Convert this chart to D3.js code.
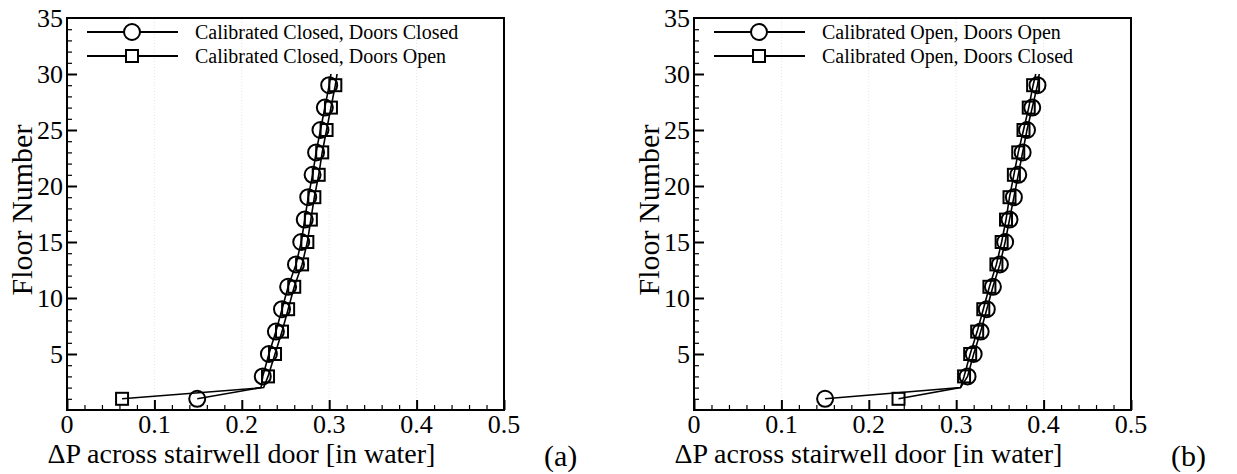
<!DOCTYPE html>
<html lang="en">
<head>
<meta charset="utf-8">
<title>Stairwell door pressure</title>
<script src="https://cdn.jsdelivr.net/npm/d3@7"></script>
<style>
  body { margin: 0; background: #fff; }
</style>
</head>
<body>
<div class="chart"></div>
<script>
// floors where a value was read (markers only on the odd floors)
var floors = [1, 2, 3, 5, 7, 9, 11, 13, 15, 17, 19, 21, 23, 25, 27, 29, 30];

// panel (a)
var closedDoorsClosed = [0.149, 0.222, 0.224, 0.231, 0.239, 0.246, 0.253, 0.262, 0.268, 0.272, 0.276, 0.281, 0.285, 0.290, 0.295, 0.300, 0.302];
var closedDoorsOpen   = [0.063, 0.225, 0.230, 0.238, 0.246, 0.253, 0.260, 0.269, 0.275, 0.279, 0.283, 0.288, 0.292, 0.297, 0.302, 0.307, 0.309];

// panel (b)
var openDoorsOpen   = [0.150, 0.305, 0.313, 0.320, 0.328, 0.335, 0.342, 0.350, 0.356, 0.361, 0.366, 0.371, 0.376, 0.381, 0.387, 0.393, 0.395];
var openDoorsClosed = [0.234, 0.305, 0.309, 0.316, 0.324, 0.331, 0.338, 0.346, 0.352, 0.357, 0.361, 0.366, 0.371, 0.377, 0.383, 0.388, 0.391];

var xTicks = [0, 0.1, 0.2, 0.3, 0.4, 0.5];
var xTickLabels = ["0", "0.1", "0.2", "0.3", "0.4", "0.5"];
var yTicks = [5, 10, 15, 20, 25, 30, 35];

var xTitle = "\u0394P across stairwell door [in water]";
var yTitle = "Floor Number";

var serif = "'Liberation Serif', 'Times New Roman', 'DejaVu Serif', serif";

var w = 1237, h = 474;
var plotW = 437, plotH = 392;
var plotTop = 18;

var svg = d3.select("div.chart")
  .append("svg")
  .attr("width", w)
  .attr("height", h);

function label(sel, size) {
  return sel.style("font-family", serif)
    .style("font-size", size + "px")
    .attr("fill", "#000");
}

function drawPanel(left, seriesA, seriesB, labelA, labelB, tag) {
  var x = d3.scaleLinear().domain([0, 0.5]).range([left, left + plotW]);
  var y = d3.scaleLinear().domain([0, 35]).range([plotTop + plotH, plotTop]);

  var g = svg.append("g");

  // faint dotted grid at major x ticks
  g.selectAll("line.grid")
    .data(xTicks.slice(1, -1))
    .enter().append("line")
    .attr("x1", d => x(d)).attr("x2", d => x(d))
    .attr("y1", y(0)).attr("y2", y(35))
    .attr("stroke", "#e6e6e6")
    .attr("stroke-width", 1)
    .attr("stroke-dasharray", "1,2");

  // inward ticks, left and bottom
  var yAxis = d3.axisRight(y)
    .tickValues(d3.range(1, 35))
    .tickSize(5)
    .tickFormat("");
  g.append("g")
    .attr("transform", "translate(" + left + ",0)")
    .call(yAxis)
    .call(a => a.select(".domain").remove())
    .call(a => a.selectAll(".tick line")
      .attr("x2", d => d % 5 === 0 ? 10 : 5)
      .attr("stroke-width", d => d % 5 === 0 ? 2 : 1.2));

  var xAxis = d3.axisTop(x)
    .tickValues(d3.range(0, 26).map(i => i * 0.02))
    .tickSize(5)
    .tickFormat("");
  g.append("g")
    .attr("transform", "translate(0," + y(0) + ")")
    .call(xAxis)
    .call(a => a.select(".domain").remove())
    .call(a => a.selectAll(".tick line")
      .attr("y2", (d, i) => i % 5 === 0 ? -10 : -5)
      .attr("stroke-width", (d, i) => i % 5 === 0 ? 2 : 1.2));

  // frame
  g.append("rect")
    .attr("x", left).attr("y", plotTop)
    .attr("width", plotW).attr("height", plotH)
    .attr("fill", "none")
    .attr("stroke", "#000")
    .attr("stroke-width", 2);

  // tick labels
  g.selectAll("text.ylab")
    .data(yTicks)
    .enter().append("text")
    .attr("x", left - 4)
    .attr("y", d => y(d))
    .attr("dy", "0.34em")
    .attr("text-anchor", "end")
    .text(d => d)
    .call(label, 26);

  g.selectAll("text.xlab")
    .data(xTicks)
    .enter().append("text")
    .attr("x", d => x(d))
    .attr("y", y(0) + 23)
    .attr("text-anchor", "middle")
    .text((d, i) => xTickLabels[i])
    .call(label, 26);

  // axis titles
  g.append("text")
    .attr("x", left + plotW / 2 - 44)
    .attr("y", y(0) + 53)
    .attr("text-anchor", "middle")
    .text(xTitle)
    .call(label, 28);

  g.append("text")
    .attr("transform", "translate(" + (left - 35) + "," + (plotTop + plotH / 2 - 4) + ") rotate(-90)")
    .attr("text-anchor", "middle")
    .text(yTitle)
    .call(label, 30);

  g.append("text")
    .attr("x", left + plotW + 40)
    .attr("y", y(0) + 56)
    .text(tag)
    .call(label, 30);

  var line = d3.line()
    .x(d => x(d[1]))
    .y(d => y(d[0]));

  function series(vals, shape) {
    var pts = floors.map((f, i) => [f, vals[i]]);
    g.append("path")
      .datum(pts)
      .attr("d", line)
      .attr("fill", "none")
      .attr("stroke", "#000")
      .attr("stroke-width", 1.6);
    var mk = pts.filter(p => p[0] % 2 === 1);
    if (shape === "circle") {
      g.selectAll(null)
        .data(mk)
        .enter().append("circle")
        .attr("cx", d => x(d[1]))
        .attr("cy", d => y(d[0]))
        .attr("r", 8)
        .attr("fill", "none")
        .attr("stroke", "#000")
        .attr("stroke-width", 2);
    } else {
      g.selectAll(null)
        .data(mk)
        .enter().append("rect")
        .attr("x", d => x(d[1]) - 6)
        .attr("y", d => y(d[0]) - 6)
        .attr("width", 12)
        .attr("height", 12)
        .attr("fill", "none")
        .attr("stroke", "#000")
        .attr("stroke-width", 2);
    }
  }
  series(seriesA, "circle");
  series(seriesB, "square");

  // legend
  var lg = g.append("g").attr("transform", "translate(" + (left + 20) + "," + (plotTop + 14) + ")");
  [[labelA, "circle"], [labelB, "square"]].forEach(function (item, i) {
    var yy = i * 24;
    lg.append("line")
      .attr("x1", 0).attr("x2", 91)
      .attr("y1", yy).attr("y2", yy)
      .attr("stroke", "#000")
      .attr("stroke-width", 1.8);
    if (item[1] === "circle") {
      lg.append("circle")
        .attr("cx", 45).attr("cy", yy).attr("r", 8)
        .attr("fill", "#fff").attr("stroke", "#000").attr("stroke-width", 2);
    } else {
      lg.append("rect")
        .attr("x", 39).attr("y", yy - 6).attr("width", 12).attr("height", 12)
        .attr("fill", "#fff").attr("stroke", "#000").attr("stroke-width", 2);
    }
    lg.append("text")
      .attr("x", 108)
      .attr("y", yy)
      .attr("dy", "0.33em")
      .text(item[0])
      .call(label, 20);
  });
}

drawPanel(67, closedDoorsClosed, closedDoorsOpen,
  "Calibrated Closed, Doors Closed", "Calibrated Closed, Doors Open", "(a)");
drawPanel(694, openDoorsOpen, openDoorsClosed,
  "Calibrated Open, Doors Open", "Calibrated Open, Doors Closed", "(b)");
</script>
</body>
</html>
